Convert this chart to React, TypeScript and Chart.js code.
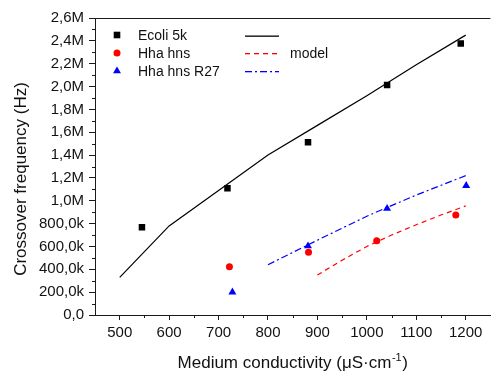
import { useEffect, useRef } from 'react';
import { Chart, registerables } from 'chart.js';

Chart.register(...registerables);

const FONT = "'Liberation Sans', Arial, Helvetica, sans-serif";

// ---- axes ----
const xMin = 450;
const xMax = 1250;
const xTickValues = [500, 600, 700, 800, 900, 1000, 1100, 1200];
const xMinorTicks = [550, 650, 750, 850, 950, 1050, 1150];
const yMin = 0;
const yMax = 2600000;
const yTickValues = [0, 200000, 400000, 600000, 800000, 1000000, 1200000, 1400000, 1600000, 1800000, 2000000, 2200000, 2400000, 2600000];
const yTickLabels = ['0,0', '200,0k', '400,0k', '600,0k', '800,0k', '1,0M', '1,2M', '1,4M', '1,6M', '1,8M', '2,0M', '2,2M', '2,4M', '2,6M'];
const yMinorTicks = [100000, 300000, 500000, 700000, 900000, 1100000, 1300000, 1500000, 1700000, 1900000, 2100000, 2300000, 2500000];

// ---- measured series ----
const ecoliX = [545, 718, 881, 1041, 1190];
const ecoliY = [768000, 1110000, 1512000, 2014000, 2376000];
const hnsX = [722, 882, 1020, 1180];
const hnsY = [423000, 549000, 651000, 876000];
const r27X = [728, 881, 1041, 1201];
const r27Y = [200000, 604000, 932000, 1132000];

// ---- model curves ----
const ecoliModelX = [500, 600, 700, 800, 900, 1000, 1100, 1200];
const ecoliModelY = [330000, 780000, 1090000, 1400000, 1660000, 1920000, 2190000, 2450000];
const hnsModelX = [900, 950, 1000, 1050, 1100, 1150, 1200];
const hnsModelY = [350000, 480000, 600000, 700000, 790000, 875000, 955000];
const r27ModelX = [800, 900, 1000, 1100, 1200];
const r27ModelY = [440000, 655000, 865000, 1050000, 1220000];

// ---- text ----
const legendLabels = ['Ecoli 5k', 'Hha hns', 'Hha hns R27'];
const modelLabel = 'model';
const xTitleMain = 'Medium conductivity (\u03BCS\u00B7cm';
const xTitleSup = '-1';
const xTitleEnd = ')';
const yTitle = 'Crossover frequency (Hz)';

const BLACK = '#000000';
const RED = '#ff0000';
const BLUE = '#0000ff';
const AXIS = '#1a1a1a';

const zip = (xs: number[], ys: number[]) => xs.map((x, i) => ({ x, y: ys[i] }));

const dashRed = [5, 4];
const dashBlue = [7, 3, 2, 3];

function legendSegments(ctx: CanvasRenderingContext2D, x0: number, x1: number, y: number, color: string, pattern: number[]) {
  // draw a horizontal patterned line as explicit filled segments
  ctx.fillStyle = color;
  if (pattern.length === 0) {
    ctx.fillRect(x0, y, x1 - x0, 1.3);
    return;
  }
  let x = x0;
  let k = 0;
  while (x < x1) {
    const len = pattern[k % pattern.length];
    if (k % 2 === 0) {
      ctx.fillRect(x, y, Math.min(len, x1 - x), 1.3);
    }
    x += len;
    k++;
  }
}

const framePlugin = {
  id: 'frameAndLegend',
  afterDraw(chart: any) {
    const { ctx, chartArea: a, scales } = chart;
    const xs = scales.x;
    const ys = scales.y;
    ctx.save();
    ctx.setLineDash([]);
    // top frame line
    ctx.strokeStyle = AXIS;
    ctx.lineWidth = 1;
    ctx.beginPath();
    ctx.moveTo(a.left, Math.round(a.top) + 0.5);
    ctx.lineTo(a.right, Math.round(a.top) + 0.5);
    ctx.stroke();
    // minor ticks
    ctx.beginPath();
    yMinorTicks.forEach((v) => {
      const py = Math.round(ys.getPixelForValue(v)) + 0.5;
      ctx.moveTo(a.left, py);
      ctx.lineTo(a.left - 3, py);
    });
    xMinorTicks.forEach((v) => {
      const px = Math.round(xs.getPixelForValue(v)) + 0.5;
      ctx.moveTo(px, a.bottom);
      ctx.lineTo(px, a.bottom + 3);
    });
    ctx.stroke();

    // legend lines
    legendSegments(ctx, 245, 279, 35.5, BLACK, []);
    legendSegments(ctx, 245, 279, 53, RED, dashRed);
    legendSegments(ctx, 245, 279, 71, BLUE, dashBlue);

    // legend symbols
    const symX = 117;
    const rowY = [35, 53, 71];
    ctx.fillStyle = BLACK;
    ctx.fillRect(symX - 3.3, rowY[0] - 3.3, 6.6, 6.6);
    ctx.fillStyle = RED;
    ctx.beginPath();
    ctx.arc(symX, rowY[1], 3.5, 0, Math.PI * 2);
    ctx.fill();
    ctx.fillStyle = BLUE;
    ctx.beginPath();
    const r = 4.6;
    ctx.moveTo(symX, rowY[2] - r);
    ctx.lineTo(symX + r * 0.866, rowY[2] + r * 0.5);
    ctx.lineTo(symX - r * 0.866, rowY[2] + r * 0.5);
    ctx.closePath();
    ctx.fill();

    ctx.font = `14px ${FONT}`;
    ctx.textBaseline = 'middle';
    ctx.textAlign = 'left';
    ctx.fillStyle = '#111';
    legendLabels.forEach((t, i) => ctx.fillText(t, 138, rowY[i] + 1));
    ctx.fillText(modelLabel, 290, 54);

    // x title
    ctx.font = `17px ${FONT}`;
    const w1 = ctx.measureText(xTitleMain).width;
    ctx.font = `11px ${FONT}`;
    const w2 = ctx.measureText(xTitleSup).width;
    ctx.font = `17px ${FONT}`;
    const w3 = ctx.measureText(xTitleEnd).width;
    const total = w1 + w2 + w3 + 1;
    let tx = (a.left + a.right) / 2 - total / 2;
    const by = 367.5;
    ctx.textBaseline = 'alphabetic';
    ctx.fillText(xTitleMain, tx, by);
    tx += w1 + 0.5;
    ctx.font = `11px ${FONT}`;
    ctx.fillText(xTitleSup, tx, by - 7);
    tx += w2 + 0.5;
    ctx.font = `17px ${FONT}`;
    ctx.fillText(xTitleEnd, tx, by);

    // y title
    ctx.save();
    ctx.translate(25.5, 179);
    ctx.rotate(-Math.PI / 2);
    ctx.textAlign = 'center';
    ctx.fillText(yTitle, 0, 0);
    ctx.restore();

    ctx.restore();
  },
};

export default function App() {
  const ref = useRef<HTMLCanvasElement | null>(null);
  useEffect(() => {
    document.body.style.margin = '0';
    const canvas = ref.current;
    if (!canvas) return;
    const chart = new Chart(canvas, {
      type: 'scatter',
      data: {
        datasets: [
          {
            label: legendLabels[0],
            data: zip(ecoliX, ecoliY),
            backgroundColor: BLACK,
            borderColor: BLACK,
            pointStyle: 'rect',
            pointRadius: 4.6,
            pointBorderWidth: 0,
            showLine: false,
          },
          {
            label: legendLabels[1],
            data: zip(hnsX, hnsY),
            backgroundColor: RED,
            borderColor: RED,
            pointStyle: 'circle',
            pointRadius: 3.5,
            pointBorderWidth: 0,
            showLine: false,
          },
          {
            label: legendLabels[2],
            data: zip(r27X, r27Y),
            backgroundColor: BLUE,
            borderColor: BLUE,
            pointStyle: 'triangle',
            pointRadius: 4.6,
            pointBorderWidth: 0,
            showLine: false,
          },
          {
            label: 'model Ecoli',
            data: zip(ecoliModelX, ecoliModelY),
            borderColor: BLACK,
            backgroundColor: BLACK,
            borderWidth: 1.2,
            pointRadius: 0,
            showLine: true,
            tension: 0,
          },
          {
            label: 'model hns',
            data: zip(hnsModelX, hnsModelY),
            borderColor: RED,
            backgroundColor: RED,
            borderWidth: 1.2,
            borderDash: dashRed,
            pointRadius: 0,
            showLine: true,
            tension: 0,
          },
          {
            label: 'model R27',
            data: zip(r27ModelX, r27ModelY),
            borderColor: BLUE,
            backgroundColor: BLUE,
            borderWidth: 1.2,
            borderDash: dashBlue,
            pointRadius: 0,
            showLine: true,
            tension: 0,
          },
        ],
      },
      options: {
        responsive: false,
        animation: false,
        devicePixelRatio: 1,
        layout: { padding: { left: 0, top: 18, right: 0, bottom: 0 } },
        plugins: {
          legend: { display: false },
          tooltip: { enabled: false },
          title: { display: false },
        },
        scales: {
          x: {
            type: 'linear',
            position: 'bottom',
            min: xMin,
            max: xMax,
            afterFit: (s: any) => {
              s.height = 59;
            },
            afterBuildTicks: (s: any) => {
              s.ticks = xTickValues.map((v) => ({ value: v }));
            },
            grid: {
              drawOnChartArea: false,
              drawTicks: true,
              tickLength: 5,
              tickColor: AXIS,
              tickWidth: 1,
            },
            border: { display: true, color: AXIS, width: 1 },
            ticks: {
              color: '#111',
              font: { family: FONT, size: 15 },
              padding: 4,
              maxRotation: 0,
              autoSkip: false,
              callback: (v: any) => String(v),
            },
          },
          y: {
            type: 'linear',
            position: 'left',
            min: yMin,
            max: yMax,
            afterFit: (s: any) => {
              s.width = 95;
            },
            afterBuildTicks: (s: any) => {
              s.ticks = yTickValues.map((v) => ({ value: v }));
            },
            grid: {
              drawOnChartArea: false,
              drawTicks: true,
              tickLength: 6,
              tickColor: AXIS,
              tickWidth: 1,
            },
            border: { display: true, color: AXIS, width: 1 },
            ticks: {
              color: '#111',
              font: { family: FONT, size: 15 },
              padding: 5,
              autoSkip: false,
              callback: (_v: any, i: number) => yTickLabels[i],
            },
          },
        },
      },
      plugins: [framePlugin],
    });
    return () => chart.destroy();
  }, []);
  return (
    <div style={{ width: 495, height: 374 }}>
      <canvas ref={ref} width={495} height={374} style={{ display: 'block', width: 495, height: 374 }} />
    </div>
  );
}
